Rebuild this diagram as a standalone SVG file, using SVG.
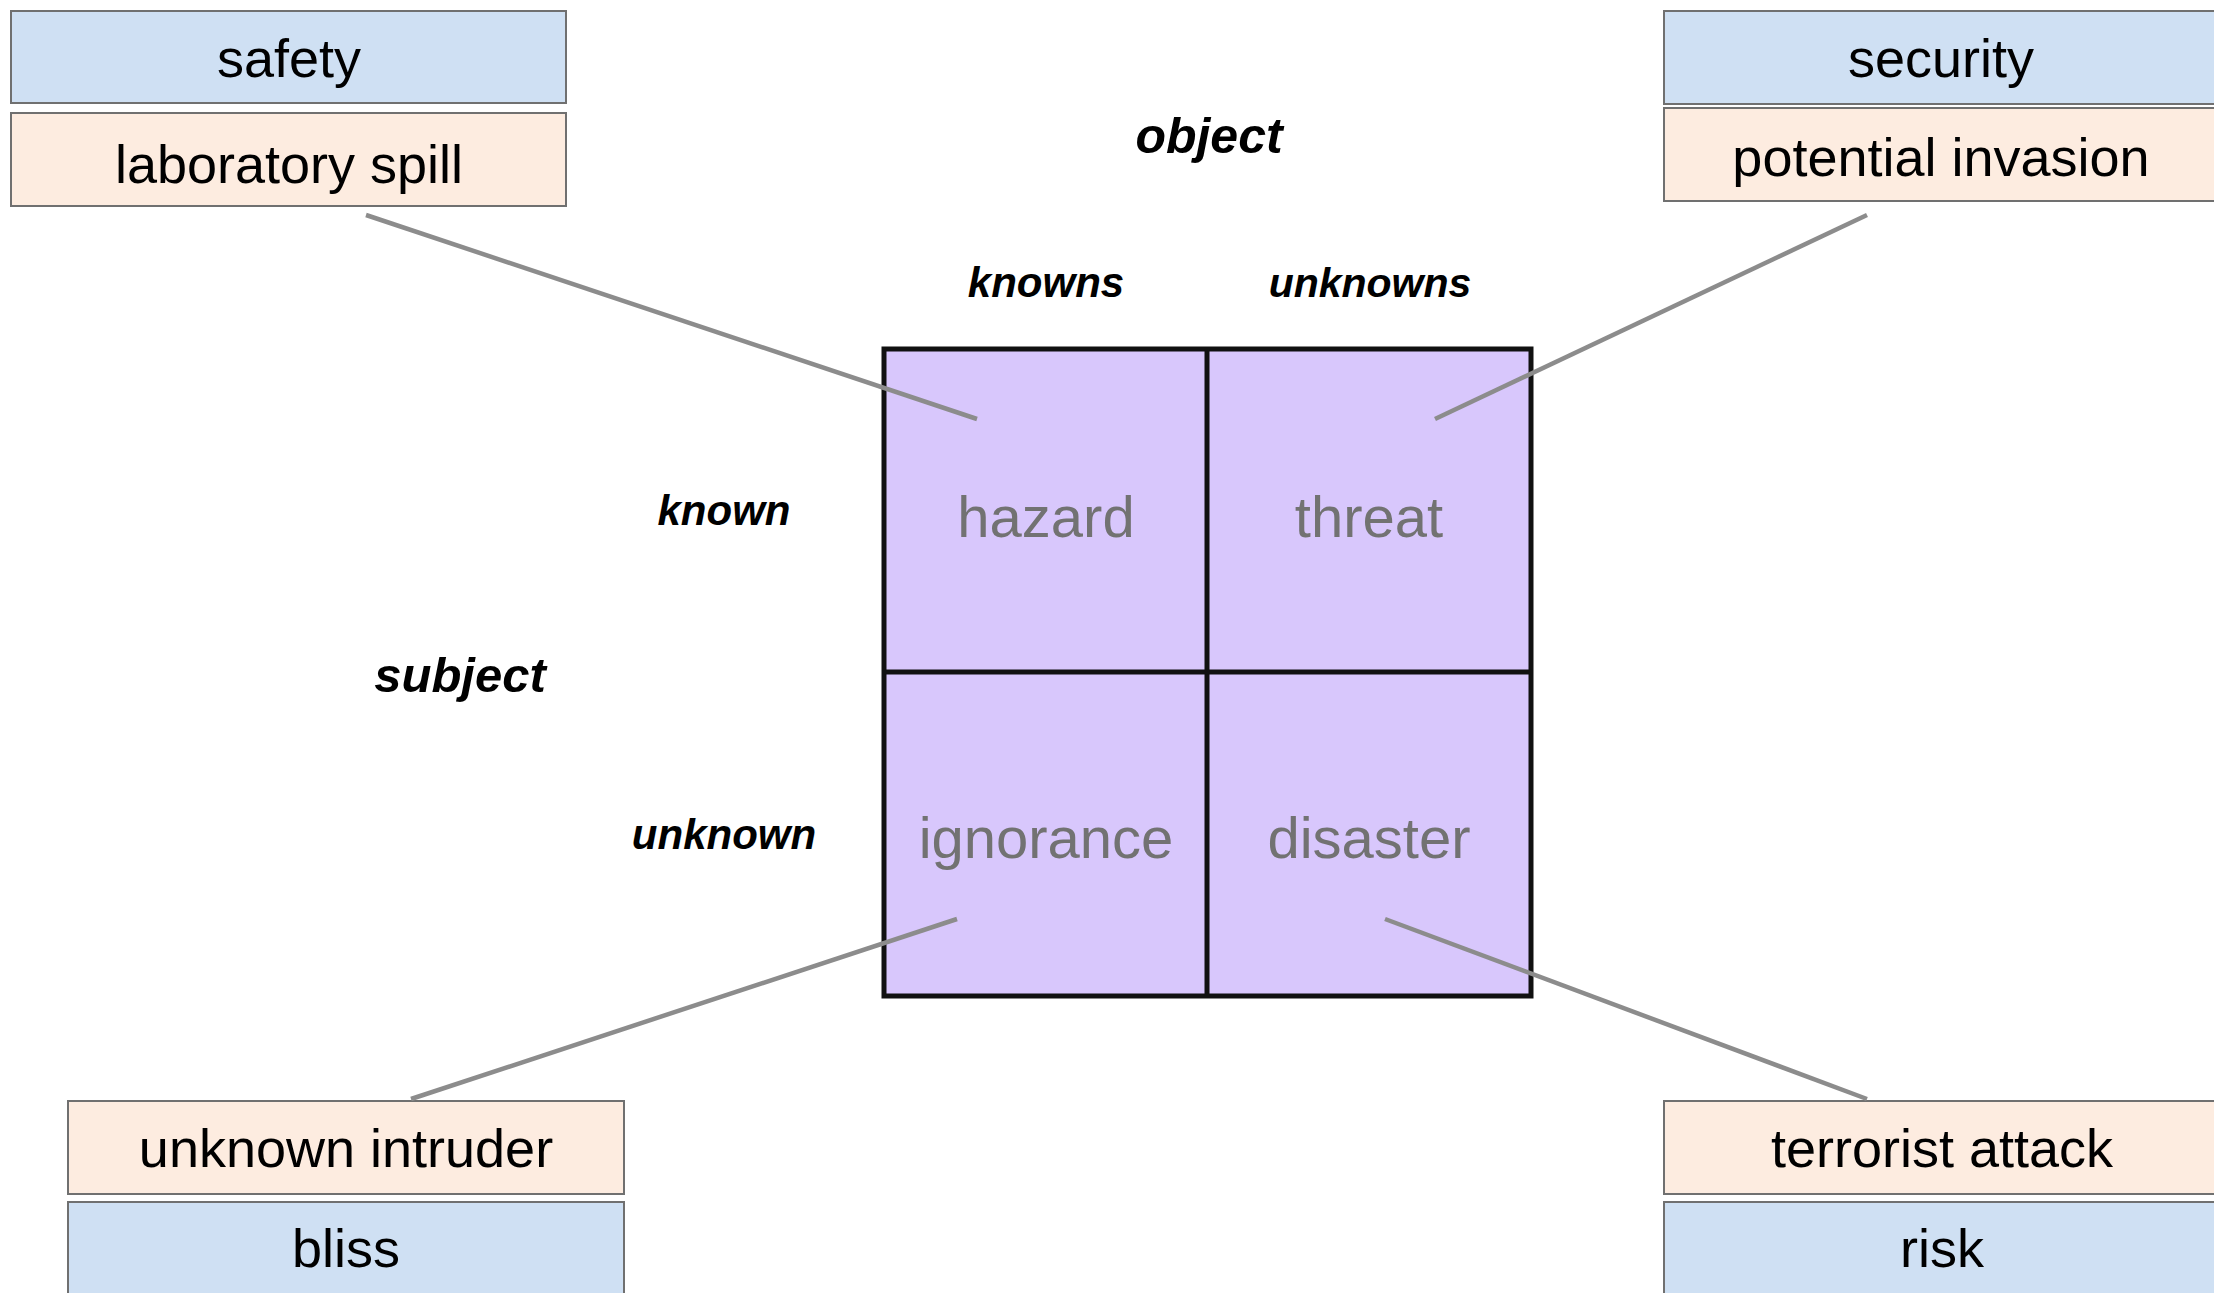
<svg xmlns="http://www.w3.org/2000/svg" width="2214" height="1293" viewBox="0 0 2214 1293">
<style>
.box{stroke:#707070;stroke-width:2}
.blue{fill:#cfe0f3}
.peach{fill:#fdece0}
.bt{font-family:"Liberation Sans",Arial,sans-serif;font-size:54px;fill:#000;text-anchor:middle}
.lbl{font-family:"Liberation Sans",Arial,sans-serif;font-weight:bold;font-style:italic;fill:#000;text-anchor:middle}
.cell{fill:#d8c7fc;stroke:none}
.grid{fill:none;stroke:#111;stroke-width:5}
.ct{font-family:"Liberation Sans",Arial,sans-serif;font-size:58px;fill:#727272;text-anchor:middle}
.conn{stroke:#8c8c8c;stroke-width:4.5;fill:none}
</style>
<rect width="2214" height="1293" fill="#fff"/>
<g id="matrix">
<rect class="cell" x="884" y="349" width="647" height="647"/>
<rect class="grid" x="884" y="349" width="647" height="647"/>
<line class="grid" x1="1207" y1="349" x2="1207" y2="996"/>
<line class="grid" x1="884" y1="672" x2="1531" y2="672"/>
</g>
<g id="hazard"><text class="ct" x="1046" y="537">hazard</text></g>
<g id="threat"><text class="ct" x="1369" y="537">threat</text></g>
<g id="ignorance"><text class="ct" x="1046" y="858">ignorance</text></g>
<g id="disaster"><text class="ct" x="1369" y="858">disaster</text></g>
<g id="axis-labels">
<text class="lbl" x="1209" y="153" font-size="50">object</text>
<text class="lbl" x="1046" y="297" font-size="42">knowns</text>
<text class="lbl" x="1370" y="297" font-size="41">unknowns</text>
<text class="lbl" x="724" y="525" font-size="42">known</text>
<text class="lbl" x="724" y="849" font-size="42">unknown</text>
<text class="lbl" x="460" y="692" font-size="49">subject</text>
</g>
<g id="safety"><rect class="box blue" x="11" y="11" width="555" height="92"/><text class="bt" x="289" y="77" font-size="51">safety</text></g>
<g id="laboratory-spill"><rect class="box peach" x="11" y="113" width="555" height="93"/><text class="bt" x="289" y="183" font-size="55">laboratory spill</text></g>
<g id="security"><rect class="box blue" x="1664" y="11" width="554" height="93"/><text class="bt" x="1941" y="77">security</text></g>
<g id="potential-invasion"><rect class="box peach" x="1664" y="108" width="554" height="93"/><text class="bt" x="1941" y="176">potential invasion</text></g>
<g id="unknown-intruder"><rect class="box peach" x="68" y="1101" width="556" height="93"/><text class="bt" x="346" y="1167" font-size="56">unknown intruder</text></g>
<g id="bliss"><rect class="box blue" x="68" y="1202" width="556" height="95"/><text class="bt" x="346" y="1267">bliss</text></g>
<g id="terrorist-attack"><rect class="box peach" x="1664" y="1101" width="554" height="93"/><text class="bt" x="1942" y="1167" font-size="56">terrorist attack</text></g>
<g id="risk"><rect class="box blue" x="1664" y="1202" width="554" height="95"/><text class="bt" x="1942" y="1267">risk</text></g>
<g id="connectors">
<line class="conn" x1="366" y1="215" x2="977" y2="419"/>
<line class="conn" x1="1867" y1="215" x2="1435" y2="419"/>
<line class="conn" x1="957" y1="919" x2="411" y2="1099"/>
<line class="conn" x1="1385" y1="919" x2="1867" y2="1099"/>
</g>
</svg>
